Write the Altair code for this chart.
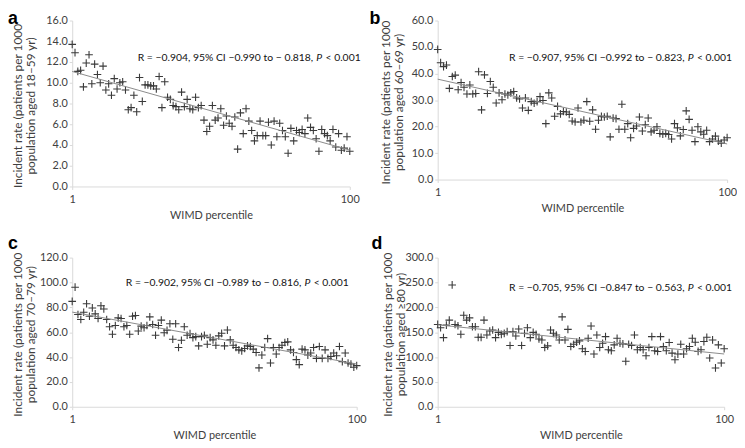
import altair as alt
import pandas as pd

# ---------------- data ----------------
rate_18_59 = [13.7, 12.9, 11.1, 11.2, 9.6, 11.9, 12.7, 9.9, 11.8, 10.8,
              10.0, 11.6, 9.3, 9.9, 8.8, 10.4, 9.4, 10.0, 10.1, 9.3,
              7.4, 7.6, 8.8, 7.2, 10.5, 8.2, 9.8, 9.8, 9.7, 9.7,
              9.4, 10.6, 7.6, 10.1, 8.6, 8.4, 7.8, 7.7, 7.4, 9.1,
              7.7, 8.4, 7.5, 7.4, 8.6, 7.6, 7.8, 6.4, 5.3, 5.8,
              7.8, 6.4, 6.6, 7.5, 5.9, 6.8, 6.1, 5.8, 6.7, 3.6,
              7.1, 5.1, 7.5, 6.3, 5.4, 4.4, 4.9, 6.3, 4.9, 4.9,
              6.2, 4.0, 6.3, 4.8, 6.1, 5.4, 4.8, 3.2, 5.6, 4.4,
              5.4, 5.2, 5.5, 5.1, 6.6, 5.7, 5.4, 4.6, 3.4, 5.5,
              5.1, 4.9, 4.4, 5.5, 3.8, 5.1, 3.5, 3.7, 4.8, 3.4]

rate_60_69 = [49.1, 44.1, 42.6, 43.2, 34.4, 38.9, 39.4, 33.9, 36.6, 34.8,
              32.3, 35.7, 32.3, 32.5, 40.7, 26.3, 39.5, 32.5, 37.0, 34.8,
              28.9, 32.7, 30.1, 32.3, 31.9, 32.7, 33.2, 30.8, 30.4, 27.0,
              30.8, 26.1, 29.4, 28.8, 29.4, 31.3, 29.8, 21.1, 32.7, 30.8,
              23.9, 27.6, 24.8, 25.7, 25.5, 24.6, 22.1, 21.7, 27.0, 21.7,
              22.4, 29.4, 22.0, 26.3, 19.0, 22.4, 23.9, 23.6, 23.9, 16.1,
              23.2, 23.0, 19.0, 28.4, 19.0, 21.1, 15.8, 19.3, 20.2, 23.6,
              18.3, 20.7, 23.2, 18.0, 18.6, 19.9, 17.4, 17.1, 17.4, 17.0,
              15.3, 21.1, 19.5, 16.5, 18.9, 25.9, 22.7, 18.6, 14.3, 19.9,
              18.0, 17.1, 18.6, 14.3, 15.3, 16.4, 14.5, 13.7, 14.9, 15.8]

rate_70_79 = [84.8, 96.2, 74.2, 70.2, 76.0, 82.9, 72.8, 79.5, 74.7, 71.0,
              81.3, 78.7, 70.2, 64.4, 58.3, 65.4, 71.5, 71.0, 64.4, 65.4,
              58.3, 72.8, 73.4, 60.9, 64.9, 63.6, 65.4, 72.3, 66.2, 57.5,
              65.4, 69.7, 59.6, 61.5, 66.8, 54.3, 66.8, 47.7, 53.5, 64.4,
              57.5, 58.8, 55.6, 56.4, 49.0, 56.4, 57.5, 50.3, 55.6, 53.8,
              49.5, 57.0, 59.1, 49.0, 61.7, 53.8, 49.5, 47.7, 45.8, 45.0,
              46.9, 49.0, 48.5, 46.4, 43.7, 31.3, 41.6, 47.7, 54.8, 35.2,
              47.7, 42.4, 47.7, 49.5, 51.7, 52.2, 45.8, 43.7, 37.9, 33.9,
              46.4, 45.8, 41.6, 43.2, 47.7, 38.9, 48.5, 38.9, 45.8, 38.9,
              40.5, 43.2, 41.1, 48.5, 36.3, 43.2, 35.2, 34.4, 31.8, 33.1]

rate_80_plus = [165.6, 158.9, 139.1, 164.2, 174.2, 245.0, 165.6, 162.9, 145.7, 184.1,
                174.2, 178.8, 160.9, 160.9, 139.7, 139.7, 174.2, 144.4, 152.3, 154.3,
                139.1, 149.7, 145.7, 147.7, 151.0, 123.2, 151.0, 142.4, 156.3, 123.2,
                147.7, 158.9, 139.1, 149.7, 145.7, 136.4, 134.4, 119.2, 122.5, 154.3,
                147.7, 144.4, 134.4, 180.8, 134.4, 155.6, 121.2, 125.8, 129.8, 132.5,
                116.6, 111.3, 137.7, 162.3, 106.0, 144.4, 119.2, 127.8, 141.1, 114.6,
                112.6, 124.5, 137.7, 127.8, 126.5, 91.4, 125.8, 123.2, 144.4, 114.6,
                119.2, 114.6, 102.6, 119.2, 141.1, 112.6, 111.3, 141.1, 121.2, 112.6,
                129.1, 107.9, 94.7, 106.0, 125.8, 106.0, 116.6, 121.2, 137.7, 129.8,
                111.3, 114.6, 131.1, 139.7, 98.0, 134.4, 78.1, 124.5, 88.1, 116.6]

panel_letters = ["a", "b", "c", "d"]
y_titles = [["Incident rate (patients  per 1000", "population aged 18\u201359 yr)"],
            ["Incident rate (patients  per 1000", "population aged 60\u201369 yr)"],
            ["Incident rate (patients  per 1000", "population aged 70\u201379 yr)"],
            ["Incident rate (patients  per 1000", "population aged \u226580 yr)"]]
y_ticks = [[0, 2, 4, 6, 8, 10, 12, 14, 16],
           [0, 10, 20, 30, 40, 50, 60],
           [0, 20, 40, 60, 80, 100, 120],
           [0, 50, 100, 150, 200, 250, 300]]
stat_texts = ["R = \u22120.904, 95% CI \u22120.990 to \u2212 0.818,",
              "R = \u22120.907, 95% CI \u22120.992 to \u2212 0.823,",
              "R = \u22120.902, 95% CI \u22120.989 to \u2212 0.816,",
              "R = \u22120.705, 95% CI \u22120.847 to \u2212 0.563,"]
x_ticks = [1, 100]
x_title = "WIMD percentile"

FONT = "Lato"
FS = 11
FS_STAT = 10.5


def panel(values, letter, ytitle, yticks, stat, w, h, stat_end, stat_y, letter_x, letter_y, title_x):
    df = pd.DataFrame({"pct": list(range(1, len(values) + 1)), "rate": values})
    xenc = alt.X("pct:Q",
                 scale=alt.Scale(domain=[1, 100], nice=False, zero=False),
                 axis=alt.Axis(values=x_ticks, title=x_title, labelFlush=False,
                               titleY=29, titleBaseline="middle", labelPadding=4))
    yenc = alt.Y("rate:Q",
                 scale=alt.Scale(domain=[yticks[0], yticks[-1]], nice=False),
                 axis=alt.Axis(values=yticks, format=".1f", title=ytitle,
                               labelOverlap=False, labelBound=False, labelFlush=False,
                               titleFontSize=12, titleLineHeight=13,
                               titleX=title_x, titleY=h / 2 + 2, titleAngle=-90,
                               titleAlign="center", titleBaseline="middle"))
    pts = alt.Chart(df).mark_point(
        shape="M-1,0L1,0M0,-1L0,1", size=60, strokeWidth=1.1,
        color="#3a3a3a", filled=False, opacity=1
    ).encode(x=xenc, y=yenc)
    trend = alt.Chart(df).transform_regression(
        "pct", "rate", extent=[1, 100]
    ).mark_line(color="#8a8a8a", strokeWidth=1).encode(x=xenc, y=yenc)

    lab = pd.DataFrame({"t": [letter]})
    let = alt.Chart(lab).mark_text(
        align="left", baseline="top", fontSize=18, fontWeight="bold",
        font="Liberation Sans", color="#000000"
    ).encode(x=alt.value(letter_x), y=alt.value(letter_y), text="t:N")

    s1 = alt.Chart(pd.DataFrame({"t": [stat]})).mark_text(
        align="right", baseline="middle", fontSize=FS_STAT, font=FONT, color="#111111"
    ).encode(x=alt.value(stat_end - 48), y=alt.value(stat_y), text="t:N")
    s2 = alt.Chart(pd.DataFrame({"t": ["P"]})).mark_text(
        align="right", baseline="middle", fontSize=FS_STAT, font=FONT, fontStyle="italic", color="#111111"
    ).encode(x=alt.value(stat_end - 39), y=alt.value(stat_y), text="t:N")
    s3 = alt.Chart(pd.DataFrame({"t": ["< 0.001"]})).mark_text(
        align="right", baseline="middle", fontSize=FS_STAT, font=FONT, color="#111111"
    ).encode(x=alt.value(stat_end), y=alt.value(stat_y), text="t:N")

    return alt.layer(pts, trend, let, s1, s2, s3).properties(width=w, height=h)


pa = panel(rate_18_59, panel_letters[0], y_titles[0], y_ticks[0], stat_texts[0],
           281, 168, 292, 38, -65, -10, -55)
pb = panel(rate_60_69, panel_letters[1], y_titles[1], y_ticks[1], stat_texts[1],
           293, 161, 298, 38, -69, -10, -53)
pc = panel(rate_70_79, panel_letters[2], y_titles[2], y_ticks[2], stat_texts[2],
           288, 151, 280, 26, -65, -23, -55)
pd_ = panel(rate_80_plus, panel_letters[3], y_titles[3], y_ticks[3], stat_texts[3],
            290, 151, 298, 31, -67, -23, -51)

chart = alt.concat(pa, pb, pc, pd_, columns=2, bounds="flush",
                   spacing={"row": 72, "column": 82}).properties(
    padding=0, background="white"
).configure_view(stroke=None).configure_axis(
    grid=False, domainColor="#d9d9d9", tickColor="#d9d9d9", tickSize=3,
    labelFont=FONT, labelFontSize=FS, labelColor="#404040", labelPadding=2,
    labelOverlap=False,
    titleFont=FONT, titleFontSize=FS, titleFontWeight="normal", titleColor="#404040"
)

chart.save("out.html", embed_options={"renderer": "svg", "actions": False})
